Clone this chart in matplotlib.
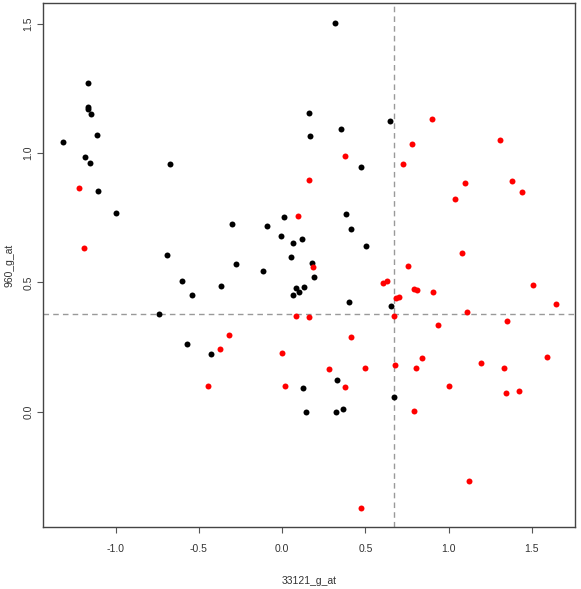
import matplotlib
matplotlib.use("Agg")
import matplotlib.pyplot as plt
import numpy as np

plt.rcParams["font.family"] = ["Liberation Sans", "DejaVu Sans"]

# group 1 (black)
black_x = [-1.167, -1.167, -1.167, -1.149, -1.112, -1.316, -1.184, -1.155, -0.672, -1.106,
           -0.996, -0.303, -0.091, 0.011, -0.005, 0.065, 0.117, 0.055, -0.276, -0.693,
           -0.115, -0.600, -0.369, -0.540, 0.065, 0.083, 0.103, 0.131, 0.164, 0.167,
           0.319, 0.353, 0.649, 0.475, 0.381, 0.413, 0.507, 0.179, 0.189, -0.738,
           -0.570, -0.429, 0.127, 0.141, 0.401, 0.653, 0.671, 0.329, 0.325, 0.367]
black_y = [1.272, 1.178, 1.170, 1.153, 1.072, 1.044, 0.986, 0.962, 0.960, 0.855,
           0.769, 0.725, 0.719, 0.754, 0.679, 0.653, 0.667, 0.598, 0.572, 0.607,
           0.544, 0.506, 0.485, 0.451, 0.453, 0.479, 0.465, 0.483, 1.156, 1.067,
           1.505, 1.095, 1.124, 0.948, 0.766, 0.706, 0.641, 0.574, 0.520, 0.378,
           0.260, 0.225, 0.092, -0.003, 0.424, 0.407, 0.055, 0.124, -0.003, 0.011]

# group 2 (red)
red_x = [-1.220, -1.191, 0.097, 0.164, 0.375, 0.903, 0.783, 0.729, 1.309, 1.101,
         1.381, 1.441, 1.041, 1.079, 0.759, 0.187, 0.609, 0.629, 0.794, 0.809,
         0.905, 1.507, 0.683, 0.701, 0.085, 0.159, -0.318, -0.372, 0.001, -0.447,
         0.015, 1.643, 1.113, 0.671, 1.354, 0.939, 0.417, 0.839, 1.195, 1.591,
         0.281, 0.501, 0.681, 0.807, 1.336, 0.377, 1.001, 1.343, 1.421, 0.793,
         1.121, 0.477]
red_y = [0.867, 0.632, 0.757, 0.896, 0.991, 1.133, 1.035, 0.960, 1.053, 0.884,
         0.893, 0.851, 0.823, 0.613, 0.564, 0.559, 0.497, 0.505, 0.474, 0.470,
         0.462, 0.491, 0.439, 0.445, 0.372, 0.367, 0.297, 0.244, 0.227, 0.100,
         0.100, 0.416, 0.386, 0.369, 0.351, 0.335, 0.288, 0.209, 0.190, 0.213,
         0.167, 0.169, 0.181, 0.169, 0.169, 0.095, 0.100, 0.074, 0.080, 0.002,
         -0.270, -0.371]

cut_x = 0.671
cut_y = 0.377

x_ticks = [-1.0, -0.5, 0.0, 0.5, 1.0, 1.5]
y_ticks = [0.0, 0.5, 1.0, 1.5]


def r_range(vals):
    # R-style 4% padding around the data
    lo, hi = min(vals), max(vals)
    pad = 0.04 * (hi - lo)
    return lo - pad, hi + pad


fig = plt.figure(figsize=(5.81, 5.89), dpi=100)
ax = fig.add_axes([0.0745, 0.1053, 0.9157, 0.8891])

ax.axvline(cut_x, color="#999999", lw=1, ls=(0, (4, 3)), zorder=1)
ax.axhline(cut_y, color="#999999", lw=1, ls=(0, (4, 3)), zorder=1)

ax.plot(black_x, black_y, "o", color="black", ms=4.3, mew=0, zorder=2)
ax.plot(red_x, red_y, "o", color="#ff0000", ms=4.3, mew=0, zorder=2)

ax.set_xlim(*r_range(black_x + red_x))
ax.set_ylim(*r_range(black_y + red_y))

ax.set_xticks(x_ticks)
ax.set_xticklabels([f"{v:.1f}" for v in x_ticks])
ax.set_yticks(y_ticks)
ax.set_yticklabels([f"{v:.1f}" for v in y_ticks], rotation=90, va="center")

ax.tick_params(axis="both", length=4, width=0.8, color="#555555",
               labelsize=7.5, labelcolor="#333333")
ax.tick_params(axis="x", pad=8)
ax.tick_params(axis="y", pad=3)

for s in ax.spines.values():
    s.set_color("#444444")
    s.set_linewidth(1)

ax.set_xlabel("33121_g_at", fontsize=7.5, color="#333333")
ax.set_ylabel("960_g_at", fontsize=7.5, color="#333333")
ax.xaxis.set_label_coords(0.5, -0.093)
ax.yaxis.set_label_coords(-0.055, 0.5)

fig.savefig("out.png", dpi=100)
